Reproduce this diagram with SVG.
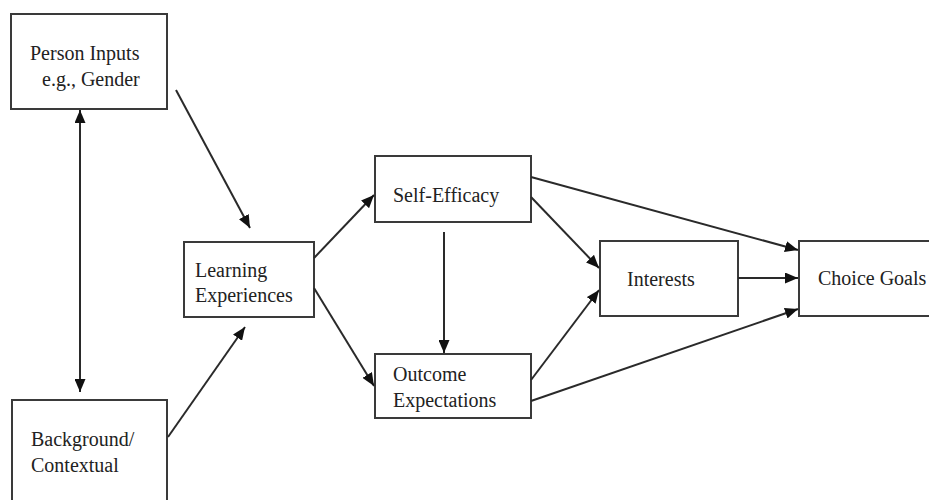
<svg xmlns="http://www.w3.org/2000/svg" width="929" height="500" viewBox="0 0 929 500">
<style>
.box{fill:#fff;stroke:#3a3a3a;stroke-width:2}
.lbl{font-family:"Liberation Serif","DejaVu Serif","Noto Serif",serif;font-size:20px;fill:#222}
.con line{stroke:#2a2a2a;stroke-width:2;fill:none}
</style>
<defs>
<marker id="ah" markerUnits="userSpaceOnUse" markerWidth="13" markerHeight="11" refX="13" refY="5.5" orient="auto-start-reverse">
<path d="M0,0 L13,5.5 L0,11 z" fill="#111"/>
</marker>
</defs>
<rect width="929" height="500" fill="#fff"/>
<g id="person-inputs">
<rect class="box" x="11" y="14" width="156" height="95"/>
<text class="lbl" x="30" y="60" font-family="Liberation Serif, serif">Person Inputs</text>
<text class="lbl" x="42" y="86" font-family="Liberation Serif, serif">e.g., Gender</text>
</g>
<g id="background">
<rect class="box" x="12" y="400" width="155" height="110"/>
<text class="lbl" x="31" y="446" font-family="Liberation Serif, serif">Background/</text>
<text class="lbl" x="31" y="472" font-family="Liberation Serif, serif">Contextual</text>
</g>
<g id="learning">
<rect class="box" x="184" y="242" width="130" height="75"/>
<text class="lbl" x="195" y="277" font-family="Liberation Serif, serif">Learning</text>
<text class="lbl" x="195" y="302" font-family="Liberation Serif, serif">Experiences</text>
</g>
<g id="self-efficacy">
<rect class="box" x="375" y="156" width="156" height="66"/>
<text class="lbl" x="393" y="202" font-family="Liberation Serif, serif">Self-Efficacy</text>
</g>
<g id="outcome">
<rect class="box" x="375" y="354" width="156" height="64"/>
<text class="lbl" x="393" y="381" font-family="Liberation Serif, serif">Outcome</text>
<text class="lbl" x="393" y="407" font-family="Liberation Serif, serif">Expectations</text>
</g>
<g id="interests">
<rect class="box" x="600" y="241" width="138" height="75"/>
<text class="lbl" x="627" y="286" font-family="Liberation Serif, serif">Interests</text>
</g>
<g id="choice-goals">
<rect class="box" x="799" y="241" width="150" height="75"/>
<text class="lbl" x="818" y="285" font-family="Liberation Serif, serif">Choice Goals</text>
</g>
<g class="con" id="connectors">
<line x1="80" y1="110" x2="80" y2="392" marker-start="url(#ah)" marker-end="url(#ah)"/>
<line x1="176" y1="90" x2="250" y2="228" marker-end="url(#ah)"/>
<line x1="168" y1="437" x2="245" y2="327" marker-end="url(#ah)"/>
<line x1="314" y1="258" x2="374" y2="195" marker-end="url(#ah)"/>
<line x1="314" y1="288" x2="374" y2="386" marker-end="url(#ah)"/>
<line x1="444" y1="232" x2="444" y2="353" marker-end="url(#ah)"/>
<line x1="531" y1="177" x2="798" y2="250" marker-end="url(#ah)"/>
<line x1="531" y1="197" x2="599" y2="268" marker-end="url(#ah)"/>
<line x1="531" y1="380" x2="599" y2="290" marker-end="url(#ah)"/>
<line x1="531" y1="401" x2="798" y2="309" marker-end="url(#ah)"/>
<line x1="738" y1="278" x2="798" y2="278" marker-end="url(#ah)"/>
</g>
</svg>
